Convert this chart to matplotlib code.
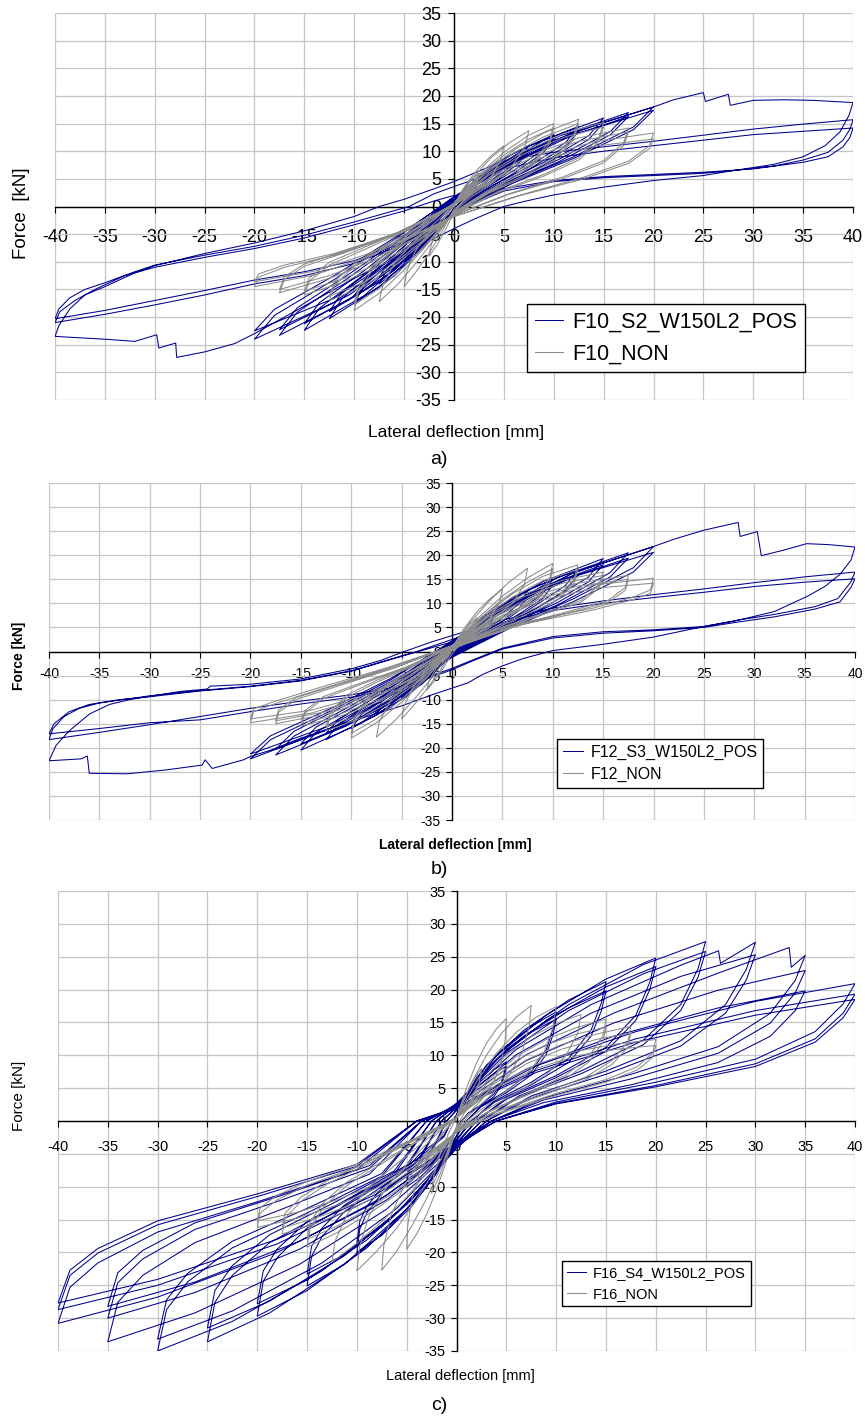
import numpy as np
import matplotlib.pyplot as plt

plt.rcParams['font.family'] = ['Liberation Sans', 'DejaVu Sans']
plt.rcParams['axes.unicode_minus'] = False

BLUE = '#00008f'
GREY = '#8c8c8c'

# ---------------- panel a : F10 ----------------
a_pos_cycles = [
    [(0,0.5),(0.8,2),(1.5,3.4),(2.5,4.5),(2.2,3.6),(1.5,2.2),(0.8,1.1),(0,-0.3),(-0.8,-2.4),(-1.5,-4.3),(-2.5,-6),(-2.2,-4.9),(-1.5,-3.3),(-0.8,-1.5),(0,0.5)],
    [(0,0.8),(1.5,3.6),(3,6),(5,8),(4.5,6.4),(3,4),(1.5,2),(0,-0.4),(-1.5,-4),(-3,-7.2),(-5,-10),(-4.5,-8.2),(-3,-5.5),(-1.5,-2.5),(0,0.8)],
    [(0,0.6),(1.5,3.2),(3,5.4),(5,7.2),(4.5,5.8),(3,3.6),(1.5,1.7),(0,-0.6),(-1.5,-3.6),(-3,-6.5),(-5,-9),(-4.5,-7.4),(-3,-5),(-1.5,-2.2),(0,0.6)],
    [(0,1.1),(2.2,5),(4.5,8.2),(7.5,11),(6.7,8.8),(4.5,5.5),(2.2,2.7),(0,-0.5),(-2.2,-5.6),(-4.5,-10),(-7.5,-14),(-6.7,-11.5),(-4.5,-7.7),(-2.2,-3.5),(0,1.1)],
    [(0,0.9),(2.2,4.6),(4.5,7.6),(7.5,10.2),(6.7,8.2),(4.5,5),(2.2,2.4),(0,-0.7),(-2.2,-5),(-4.5,-9.2),(-7.5,-12.8),(-6.7,-10.5),(-4.5,-7),(-2.2,-3.2),(0,0.9)],
    [(0,1.3),(3,5.8),(6,9.7),(10,13),(9,10.4),(6,6.5),(3,3.2),(0,-0.6),(-3,-7),(-6,-12.6),(-10,-17.5),(-9,-14.3),(-6,-9.6),(-3,-4.4),(0,1.3)],
    [(0,1.1),(3,5.3),(6,9),(10,12.2),(9,9.8),(6,6),(3,2.9),(0,-0.8),(-3,-6.4),(-6,-11.6),(-10,-16.2),(-9,-13.2),(-6,-8.8),(-3,-4),(0,1.1)],
    [(0,1.5),(3.7,6.5),(7.5,10.9),(12.5,14.5),(11.2,11.6),(7.5,7.2),(3.7,3.6),(0,-0.7),(-3.7,-8.1),(-7.5,-14.6),(-12.5,-20.3),(-11.2,-16.6),(-7.5,-11.2),(-3.7,-5.1),(0,1.5)],
    [(0,1.3),(3.7,6),(7.5,10.2),(12.5,13.6),(11.2,10.9),(7.5,6.7),(3.7,3.3),(0,-0.9),(-3.7,-7.5),(-7.5,-13.6),(-12.5,-19),(-11.2,-15.5),(-7.5,-10.4),(-3.7,-4.7),(0,1.3)],
    [(0,1.6),(4.5,7.2),(9,12),(15,16),(13.5,12.8),(9,8),(4.5,4),(0,-0.8),(-4.5,-9),(-9,-16.1),(-15,-22.4),(-13.5,-18.4),(-9,-12.3),(-4.5,-5.6),(0,1.6)],
    [(0,1.4),(4.5,6.8),(9,11.3),(15,15.2),(13.5,12.1),(9,7.5),(4.5,3.7),(0,-1),(-4.5,-8.4),(-9,-15.2),(-15,-21.2),(-13.5,-17.4),(-9,-11.6),(-4.5,-5.2),(0,1.4)],
    [(0,1.7),(5.2,7.6),(10.5,12.7),(17.5,17),(15.7,13.6),(10.5,8.5),(5.2,4.2),(0,-0.8),(-5.2,-9.3),(-10.5,-16.8),(-17.5,-23.3),(-15.7,-19.1),(-10.5,-12.8),(-5.2,-5.8),(0,1.7)],
    [(0,1.5),(5.2,7.2),(10.5,12),(17.5,16.3),(15.7,13),(10.5,8.1),(5.2,4),(0,-1),(-5.2,-8.8),(-10.5,-16),(-17.5,-22.3),(-15.7,-18.3),(-10.5,-12.2),(-5.2,-5.5),(0,1.5)],
    [(0,1.8),(6,8.1),(12,13.5),(20,18),(18,14.4),(12,9),(6,4.5),(0,-0.9),(-6,-9.6),(-12,-17.3),(-20,-24),(-18,-19.7),(-12,-13.2),(-6,-6),(0,1.8)],
    [(0,1.6),(6,7.8),(12,13),(20,17.4),(18,13.9),(12,8.7),(6,4.3),(0,-1.1),(-6,-9.2),(-12,-16.6),(-20,-22.5),(-18,-18.6),(-12,-12.5),(-6,-5.7),(0,1.6)],
]
a_pos_large = [
    (0,1.6),(6,8.1),(12,13.5),(20,18),(22,19.3),(25,20.6),(25.2,19),(27.5,20.3),(27.7,18.3),(30,19.2),(33,19.3),(36,19.2),(38,19),(40,18.8),
    (39.6,16.5),(38.7,13.5),(37.2,11),(35,9),(32,7.6),(28,6.5),(25,5.6),(20,4.7),(15,3.5),(10,2.1),(7,0.9),(5,0),(2,-2.3),(0,-4),
    (-5,-8.5),(-10,-13),(-15,-18),(-18,-21),(-20,-23),(-22,-24.8),(-25,-26.3),(-27.8,-27.3),(-27.9,-24.7),(-29.6,-25.6),(-29.8,-23.2),
    (-32,-24.4),(-35,-24),(-37,-23.8),(-40,-23.5),
    (-39.6,-21.5),(-38.5,-18.5),(-37,-16),(-35,-14.5),(-32,-12),(-30,-10.7),(-25,-8.5),(-20,-6.6),(-15,-4.4),(-10,-1.8),(-7.5,0),(-5,1.3),(-2,3.2),(0,4.5),
    (5,8.3),(10,9.8),(15,10.8),(20,11.8),(25,12.9),(30,14),(35,14.9),(40,15.7),
    (39.7,14),(39,12),(37.5,9.8),(35,8.4),(32,7.3),(28,6.5),(25,6),(20,5.6),(15,5.2),(10,4.5),(5,2.8),(2,0.5),(0,-1.5),
    (-5,-6.5),(-10,-9.8),(-15,-11.8),(-20,-13.3),(-25,-15.2),(-30,-17),(-35,-18.8),(-40,-20.3),
    (-39.6,-18.5),(-38.5,-16.5),(-37,-15),(-35,-13.8),(-32,-11.8),(-30,-10.6),(-25,-8.8),(-20,-7.2),(-15,-5.2),(-10,-2.8),(-4.5,0),(-2,2.3),(0,3.6),
    (5,6.8),(10,8.8),(15,10),(20,11),(25,12),(30,13),(35,13.6),(40,14.2),
    (39.7,12.5),(39,10.8),(37.5,9),(35,8),(30,6.8),(25,6.2),(20,5.8),(15,5.4),(10,4.7),(5,3.2),(2,1),(0,-1),
    (-5,-6.8),(-10,-10.3),(-15,-12.5),(-20,-14),(-25,-16),(-30,-17.8),(-35,-19.5),(-40,-21),
    (-39.5,-19),(-38,-17),(-36,-15),(-33,-12.5),(-30,-11),(-25,-9.2),(-20,-7.6),(-15,-5.7),(-10,-3.3),(-5,-0.8),(-2,1),(0,2),
]
a_non_cycles = [
    [(0,0),(0.8,2.8),(1.7,4.8),(2.5,6),(2.3,4.5),(1.6,2.3),(0.7,0.6),(0,-1),(-0.8,-4),(-1.7,-7),(-2.5,-9),(-2.3,-7),(-1.6,-4),(-0.7,-1.5),(0,0)],
    [(0,0.3),(1.2,4),(2.5,7),(3.8,9.3),(5,11),(4.7,8.5),(3.8,5.5),(2.5,3.2),(1,1),(0,-0.5),(-1.2,-4.5),(-2.5,-8.5),(-3.8,-11.8),(-5,-14.5),(-4.7,-11.5),(-3.8,-7.8),(-2.5,-4.8),(-1,-2),(0,0.3)],
    [(0,0.5),(1.8,5),(3.7,8.8),(5.6,11.6),(7.5,13.7),(7.1,10.8),(5.8,7.2),(3.8,4.2),(1.8,1.8),(0,-0.8),(-1.8,-5.5),(-3.7,-10),(-5.6,-14),(-7.5,-17.2),(-7.1,-14),(-5.8,-9.8),(-3.8,-6),(-1.8,-2.8),(0,0.5)],
    [(0,0.6),(2.5,5.8),(5,9.8),(7.5,12.9),(10,15),(9.6,12),(8,8),(5.5,5),(2.8,2.2),(0,-1),(-2.5,-6.5),(-5,-11.5),(-7.5,-15.7),(-10,-18.8),(-9.6,-15.5),(-8,-11),(-5.5,-7),(-2.8,-3.5),(0,0.6)],
    [(0,0.5),(2.5,5.5),(5,9.3),(7.5,12.2),(10,14.2),(9.6,11.4),(8,7.6),(5.5,4.7),(2.8,2),(0,-1.1),(-2.5,-6.2),(-5,-10.9),(-7.5,-14.8),(-10,-17.8),(-9.6,-14.7),(-8,-10.4),(-5.5,-6.6),(-2.8,-3.3),(0,0.5)],
    [(0,0.6),(3,6),(6,10.2),(9,13.3),(12.5,15.8),(12,12.8),(10,8.8),(7,5.6),(3.5,2.6),(0,-1.2),(-3,-6.3),(-6,-10.8),(-9,-14.4),(-12.5,-17),(-12,-14.3),(-10,-10.8),(-7,-7.5),(-3.5,-3.8),(0,0.6)],
    [(0,0.5),(3,5.7),(6,9.7),(9,12.6),(12.5,15),(12,12.1),(10,8.3),(7,5.3),(3.5,2.4),(0,-1.3),(-3,-6),(-6,-10.3),(-9,-13.7),(-12.5,-16.2),(-12,-13.6),(-10,-10.3),(-7,-7.1),(-3.5,-3.6),(0,0.5)],
    [(0,0.5),(3.5,6),(7,10),(11,13.2),(15,15.2),(14.5,12.3),(12.5,8.8),(9,5.8),(4.5,2.8),(0,-1.3),(-3.5,-6.2),(-7,-10.3),(-11,-13.6),(-15,-16),(-14.5,-13.5),(-12.5,-10.6),(-9,-7.8),(-4.5,-4.2),(0,0.5)],
    [(0,0.4),(3.5,5.7),(7,9.5),(11,12.5),(15,14.4),(14.5,11.7),(12.5,8.4),(9,5.5),(4.5,2.6),(0,-1.4),(-3.5,-5.9),(-7,-9.8),(-11,-13),(-15,-15.3),(-14.5,-12.9),(-12.5,-10.1),(-9,-7.4),(-4.5,-4),(0,0.4)],
    [(0,0.4),(4,5.8),(8,9.5),(12.5,12.4),(17.5,14.2),(17,11.5),(15,8.3),(11,5.4),(5.5,2.3),(0,-1.5),(-4,-6),(-8,-9.8),(-12.5,-13),(-17.5,-15.6),(-17,-13.2),(-15,-10.8),(-11,-8.4),(-5.5,-4.8),(0,0.4)],
    [(0,0.3),(4,5.5),(8,9),(12.5,11.8),(17.5,13.5),(17,11),(15,7.9),(11,5.1),(5.5,2.2),(0,-1.6),(-4,-5.8),(-8,-9.4),(-12.5,-12.5),(-17.5,-15),(-17,-12.7),(-15,-10.4),(-11,-8.1),(-5.5,-4.6),(0,0.3)],
    [(0,0.3),(4.5,5.5),(9,9),(14,11.7),(20,13.3),(19.6,11),(17.5,8.2),(13,5.3),(6.5,2),(0,-1.8),(-4.5,-5.8),(-9,-9.3),(-14,-12.4),(-20,-14.5),(-19.6,-12.8),(-17,-11),(-12,-8.8),(-6,-5.2),(0,0.3)],
    [(0,0.3),(4.5,5.2),(9,8.5),(14,10.9),(20,12.2),(19.6,10.5),(17.5,7.8),(13,5),(6.5,1.9),(0,-1.8),(-4.5,-5.5),(-9,-8.8),(-14,-11.7),(-20,-13.6),(-19.6,-12.2),(-17,-10.6),(-12,-8.5),(-6,-5),(0,0.3)],
]

# ---------------- panel b : F12 ----------------
b_pos_cycles = [
    [(0,0.6),(0.8,2.6),(1.5,4.3),(2.5,6),(2.2,4.8),(1.5,3),(0.8,1.5),(0,-0.4),(-0.8,-2),(-1.5,-3.6),(-2.5,-5),(-2.2,-4),(-1.5,-2.7),(-0.8,-1.2),(0,0.6)],
    [(0,0.9),(1.5,4.2),(3,7),(5,9.5),(4.5,7.6),(3,4.8),(1.5,2.4),(0,-0.5),(-1.5,-3.8),(-3,-6.8),(-5,-9.5),(-4.5,-7.8),(-3,-5.2),(-1.5,-2.4),(0,0.9)],
    [(0,1.2),(2.2,5.6),(4.5,9.2),(7.5,12.5),(6.7,10),(4.5,6.2),(2.2,3),(0,-0.6),(-2.2,-5.2),(-4.5,-9.3),(-7.5,-13),(-6.7,-10.7),(-4.5,-7.1),(-2.2,-3.3),(0,1.2)],
    [(0,1),(2.2,5),(4.5,8.4),(7.5,11.4),(6.7,9.1),(4.5,5.6),(2.2,2.7),(0,-0.7),(-2.2,-4.7),(-4.5,-8.4),(-7.5,-11.8),(-6.7,-9.7),(-4.5,-6.4),(-2.2,-3),(0,1)],
    [(0,1.5),(3,6.8),(6,11.2),(10,15),(9,12),(6,7.5),(3,3.8),(0,-0.8),(-3,-6.4),(-6,-11.5),(-10,-16),(-9,-13.1),(-6,-8.8),(-3,-4.2),(0,1.5)],
    [(0,1.3),(3,6.2),(6,10.3),(10,13.8),(9,11),(6,6.9),(3,3.4),(0,-0.9),(-3,-5.9),(-6,-10.6),(-10,-14.8),(-9,-12.1),(-6,-8.1),(-3,-3.8),(0,1.3)],
    [(0,1.7),(3.7,7.7),(7.5,12.8),(12.5,17),(11.2,13.6),(7.5,8.5),(3.7,4.3),(0,-0.9),(-3.7,-7.3),(-7.5,-13.2),(-12.5,-18.3),(-11.2,-15),(-7.5,-10),(-3.7,-4.7),(0,1.7)],
    [(0,1.5),(3.7,7.1),(7.5,11.8),(12.5,15.8),(11.2,12.6),(7.5,7.9),(3.7,3.9),(0,-1),(-3.7,-6.8),(-7.5,-12.3),(-12.5,-17),(-11.2,-14),(-7.5,-9.3),(-3.7,-4.4),(0,1.5)],
    [(0,1.9),(4.5,8.7),(9,14.5),(15,19.3),(13.5,15.4),(9,9.7),(4.5,4.8),(0,-1),(-4.5,-8.2),(-9,-14.8),(-15,-20.5),(-13.5,-16.8),(-9,-11.3),(-4.5,-5.3),(0,1.9)],
    [(0,1.7),(4.5,8.1),(9,13.5),(15,18),(13.5,14.4),(9,9),(4.5,4.5),(0,-1.1),(-4.5,-7.7),(-9,-13.9),(-15,-19.2),(-13.5,-15.7),(-9,-10.6),(-4.5,-5),(0,1.7)],
    [(0,2),(5.2,9.2),(10.5,15.4),(17.5,20.5),(15.7,16.4),(10.5,10.2),(5.2,5.1),(0,-1),(-5.2,-8.6),(-10.5,-15.5),(-17.5,-21.5),(-15.7,-17.6),(-10.5,-11.8),(-5.2,-5.6),(0,2)],
    [(0,1.8),(5.2,8.7),(10.5,14.5),(17.5,19.4),(15.7,15.5),(10.5,9.7),(5.2,4.8),(0,-1.1),(-5.2,-8.1),(-10.5,-14.6),(-17.5,-20.3),(-15.7,-16.6),(-10.5,-11.1),(-5.2,-5.3),(0,1.8)],
    [(0,2.2),(6,9.8),(12,16.3),(20,21.8),(18,17.4),(12,10.9),(6,5.4),(0,-1.1),(-6,-8.9),(-12,-16),(-20,-22.3),(-18,-18.3),(-12,-12.3),(-6,-5.8),(0,2.2)],
    [(0,2),(6,9.3),(12,15.5),(20,20.6),(18,16.5),(12,10.3),(6,5.1),(0,-1.2),(-6,-8.5),(-12,-15.3),(-20,-21.3),(-18,-17.5),(-12,-11.8),(-6,-5.5),(0,2)],
]
b_pos_large = [
    (0,2),(6,9.8),(12,16.3),(20,21.8),(22,23.3),(25,25.2),(28.4,26.8),(28.6,23.9),(30.3,24.9),(30.7,19.9),(33,21.1),(35.2,22.4),(37.4,22.2),(40,21.7),
    (39.6,19),(38.5,16),(37,13.5),(35.3,11.5),(32,8.3),(28,6.3),(25,5.2),(20,3),(15,1.5),(10,0.2),(7,-1.5),(5,-3),(3,-4.8),(1.6,-6.5),
    (-2,-9),(-5,-11.3),(-10,-14.5),(-15,-18),(-18,-20.5),(-20,-21.8),(-20.7,-22.5),(-23.8,-24.3),(-24.5,-22.5),(-24.8,-23.6),(-28.4,-24.6),
    (-32.2,-25.4),(-36,-25.3),(-36.2,-21.7),(-36.8,-22.3),(-40,-22.7),
    (-39.3,-19.5),(-38,-16.5),(-36,-13),(-34,-11),(-32,-10),(-30,-9.3),(-27,-8.3),(-24.3,-7.8),(-24,-7.2),(-20,-6.8),(-15,-5.7),(-10,-3.6),(-7,-1.8),(-5,-0.2),(-2,2),(0,3.3),
    (5,6.5),(10,9),(15,10.5),(20,11.8),(25,13),(30,14.3),(35,15.5),(40,16.5),
    (39.6,14.5),(38.3,11),(36,9.3),(32,7.7),(28.6,6.6),(25,5.2),(20,4.5),(15,4.1),(10,3.1),(5,0.7),(2,-1.8),(0,-3.5),
    (-5,-7.2),(-10,-9),(-15,-10.3),(-20,-11.8),(-25,-13.5),(-30,-15.2),(-35,-16.8),(-40,-18.3),
    (-39.6,-16),(-38.5,-13.5),(-37,-11.8),(-35,-10.7),(-32,-9.8),(-30,-9.2),(-25,-8.1),(-20,-7.2),(-15,-6),(-10,-4),(-5,-0.9),(-3.5,0),(0,2.5),
    (5,6),(10,8.5),(15,10),(20,11.2),(25,12.3),(30,13.5),(35,14.4),(40,15.1),
    (39.6,13.3),(38.5,10.3),(36,8.8),(32,7.2),(28,6),(25,5),(20,4.3),(15,3.8),(10,2.8),(5,0.5),(2,-2),(0,-3.8),
    (-5,-7.5),(-10,-9.5),(-15,-10.9),(-20,-12.5),(-25,-14.2),(-30,-14.8),(-35,-16),(-40,-17.1),
    (-39.5,-15),(-38,-12.5),(-36,-11),(-33,-10),(-30,-9.4),(-25,-8.2),(-20,-7.3),(-15,-6.1),(-10,-4.1),(-5,-1),(0,2),
]
b_non_cycles = [
    [(0,0.5),(0.8,3.2),(1.7,5.5),(2.5,7),(2.3,5.3),(1.6,3),(0.7,1.2),(0,-0.5),(-0.8,-3.2),(-1.7,-6),(-2.5,-8),(-2.3,-6.2),(-1.6,-3.6),(-0.7,-1.2),(0,0.5)],
    [(0,0.7),(1.2,4.8),(2.5,8.3),(3.8,11),(5,13),(4.7,10.2),(3.8,7),(2.5,4.5),(1,2),(0,0.2),(-1.2,-4),(-2.5,-7.8),(-3.8,-11.2),(-5,-14),(-4.7,-11),(-3.8,-7.2),(-2.5,-4),(-1,-1.2),(0,0.7)],
    [(0,0.8),(1.8,6),(3.7,10.5),(5.6,14.3),(7.5,17.3),(7.2,14),(6,10),(4,6.8),(2,3.5),(0,0.5),(-1.8,-5),(-3.7,-9.8),(-5.6,-14.2),(-7.5,-17.8),(-7.2,-14.5),(-6,-9.8),(-4,-5.8),(-2,-2.5),(0,0.8)],
    [(0,1),(2.5,6.8),(5,11.5),(7.5,15.3),(10,18.3),(9.7,15.2),(8.5,11.5),(6,8.2),(3,4.5),(0,0.8),(-2.5,-5.5),(-5,-10.5),(-7.5,-14.8),(-10,-18),(-9.7,-14.8),(-8.5,-10.5),(-6,-6.5),(-3,-3),(0,1)],
    [(0,0.9),(2.5,6.4),(5,10.8),(7.5,14.4),(10,17.2),(9.7,14.3),(8.5,10.8),(6,7.7),(3,4.2),(0,0.7),(-2.5,-5.2),(-5,-9.9),(-7.5,-14),(-10,-17),(-9.7,-14),(-8.5,-9.9),(-6,-6.1),(-3,-2.8),(0,0.9)],
    [(0,1.1),(3,7.2),(6,12),(9,15.6),(12.5,18),(12.1,15),(10.5,11.3),(7.5,8.3),(3.8,4.6),(0,0.8),(-3,-5.8),(-6,-10.3),(-9,-13.8),(-12.5,-16.5),(-12.1,-13.5),(-10.5,-9.6),(-7.5,-6.4),(-3.8,-3),(0,1.1)],
    [(0,1),(3,6.8),(6,11.3),(9,14.7),(12.5,17),(12.1,14.2),(10.5,10.7),(7.5,7.8),(3.8,4.3),(0,0.7),(-3,-5.5),(-6,-9.7),(-9,-13),(-12.5,-15.6),(-12.1,-12.8),(-10.5,-9.1),(-7.5,-6),(-3.8,-2.8),(0,1)],
    [(0,1.2),(3.5,7.3),(7,11.8),(11,14.8),(15,16.5),(14.6,13.8),(12.8,10.6),(9,8),(4.5,4.7),(0,0.8),(-3.5,-5.8),(-7,-10.2),(-11,-13.4),(-15,-15.5),(-14.6,-12.8),(-12.8,-9.8),(-9,-6.8),(-4.5,-3.3),(0,1.2)],
    [(0,1.1),(3.5,7),(7,11.3),(11,14.2),(15,15.8),(14.6,13.2),(12.8,10.2),(9,7.7),(4.5,4.5),(0,0.7),(-3.5,-5.6),(-7,-9.8),(-11,-12.9),(-15,-14.9),(-14.6,-12.3),(-12.8,-9.4),(-9,-6.5),(-4.5,-3.2),(0,1.1)],
    [(0,1.2),(4,7.2),(8,11.5),(12.5,14.2),(17.5,15.8),(17.2,13.3),(15.5,10.6),(11.5,8.3),(5.8,5.1),(0,0.8),(-4,-5.8),(-8,-10),(-12.5,-13),(-17.5,-15),(-17.2,-12.6),(-15.5,-10),(-11.5,-7.3),(-5.8,-3.5),(0,1.2)],
    [(0,1.1),(4,6.9),(8,11),(12.5,13.6),(17.5,15),(17.2,12.7),(15.5,10.2),(11.5,8),(5.8,4.9),(0,0.7),(-4,-5.6),(-8,-9.6),(-12.5,-12.5),(-17.5,-14.4),(-17.2,-12.1),(-15.5,-9.6),(-11.5,-7),(-5.8,-3.4),(0,1.1)],
    [(0,1.2),(4.5,7),(9,11.2),(14,13.8),(20,15.2),(19.7,12.8),(18,11.3),(14,9),(7,6),(0,0.7),(-4.5,-5.6),(-9,-9.8),(-14,-12.8),(-20,-14.8),(-19.7,-12.5),(-17.5,-10.8),(-13,-7.8),(-6.5,-3.6),(0,1.2)],
    [(0,1.1),(4.5,6.7),(9,10.7),(14,13.1),(20,14.2),(19.7,12.1),(18,10.8),(14,8.6),(7,5.7),(0,0.6),(-4.5,-5.3),(-9,-9.3),(-14,-12.2),(-20,-14),(-19.7,-11.9),(-17.5,-10.3),(-13,-7.4),(-6.5,-3.4),(0,1.1)],
]

# ---------------- panel c : F16 ----------------
c_pos_cycles = [
    [(0,1),(1,3.6),(2.25,5.9),(3.75,7.8),(5,9),(4.85,7.7),(4.5,5.9),(3.75,4.1),(2.5,2.5),(1.25,1.3),(0.5,0),(0,-1.2),(-1,-4),(-2.25,-6.5),(-3.75,-8.7),(-5,-10),(-4.85,-8.2),(-4.5,-7),(-3.75,-5.5),(-2.5,-4),(-1.25,-2.4),(-0.5,0),(0,0.9)],
    [(0,0.9),(1,3.3),(2.25,5.4),(3.75,7.2),(5,8.3),(4.85,7.1),(4.5,5.4),(3.75,3.7),(2.5,2.3),(1.25,1.2),(0.5,0),(0,-1.1),(-1,-3.7),(-2.25,-6),(-3.75,-8),(-5,-9.2),(-4.85,-7.5),(-4.5,-6.4),(-3.75,-5.1),(-2.5,-3.7),(-1.25,-2.2),(-0.5,0),(0,0.8)],
    [(0,0.8),(2,6.6),(4.5,10.8),(7.5,14.4),(10,16.6),(9.7,14.1),(9,10.8),(7.5,7.5),(5,4.6),(2.5,2.3),(1,0),(0,-2.4),(-2,-8),(-4.5,-13),(-7.5,-17.4),(-10,-20),(-9.7,-16.4),(-9,-14),(-7.5,-11),(-5,-8),(-2.5,-4.8),(-1,0),(0,1.7)],
    [(0,1.7),(2,6.2),(4.5,10.1),(7.5,13.5),(10,15.5),(9.7,13.2),(9,10.1),(7.5,7),(5,4.3),(2.5,2.2),(1,0),(0,-2.2),(-2,-7.4),(-4.5,-12),(-7.5,-16.1),(-10,-18.5),(-9.7,-15.2),(-9,-13),(-7.5,-10.2),(-5,-7.4),(-2.5,-4.4),(-1,0),(0,1.6)],
    [(0,1.6),(3,8.5),(6.75,13.8),(11.25,18.4),(15,21.2),(14.55,18),(13.5,13.8),(11.25,9.5),(7.5,5.9),(3.75,3),(1.5,0),(0,-3),(-3,-10),(-6.75,-16.3),(-11.25,-21.8),(-15,-25.1),(-14.55,-20.6),(-13.5,-17.6),(-11.25,-13.8),(-7.5,-10),(-3.75,-6),(-1.5,0),(0,2.1)],
    [(0,2.1),(3,7.9),(6.75,12.9),(11.25,17.2),(15,19.8),(14.55,16.8),(13.5,12.9),(11.25,8.9),(7.5,5.5),(3.75,2.8),(1.5,0),(0,-2.8),(-3,-9.3),(-6.75,-15.1),(-11.25,-20.3),(-15,-23.3),(-14.55,-19.1),(-13.5,-16.3),(-11.25,-12.8),(-7.5,-9.3),(-3.75,-5.6),(-1.5,0),(0,2)],
    [(0,2),(4,9.9),(9,16.1),(15,21.6),(20,24.8),(19.4,21.1),(18,16.1),(15,11.2),(10,6.9),(5,3.5),(2,0),(0,-3.6),(-4,-11.9),(-9,-19.3),(-15,-25.8),(-20,-29.7),(-19.4,-24.4),(-18,-20.8),(-15,-16.3),(-10,-11.9),(-5,-7.1),(-2,0),(0,2.5)],
    [(0,2.5),(4,9.4),(9,15.3),(15,20.4),(20,23.5),(19.4,20),(18,15.3),(15,10.6),(10,6.6),(5,3.3),(2,0),(0,-3.3),(-4,-11.1),(-9,-18.1),(-15,-24.2),(-20,-27.8),(-19.4,-22.8),(-18,-19.5),(-15,-15.3),(-10,-11.1),(-5,-6.7),(-2,0),(0,2.4)],
    [(0,2.4),(5,10.9),(11.25,17.7),(18.75,23.8),(25,27.3),(24.25,23.2),(22.5,17.7),(18.75,12.3),(12.5,7.6),(6.25,3.8),(2.5,0),(0,-4),(-5,-13.4),(-11.25,-21.8),(-18.75,-29.2),(-25,-33.6),(-24.25,-27.6),(-22.5,-23.5),(-18.75,-18.5),(-12.5,-13.4),(-6.25,-8.1),(-2.5,0),(0,2.7)],
    [(0,2.7),(5,10.3),(11.25,16.8),(18.75,22.4),(25,25.8),(24.25,21.9),(22.5,16.8),(18.75,11.6),(12.5,7.2),(6.25,3.6),(2.5,0),(0,-3.8),(-5,-12.6),(-11.25,-20.5),(-18.75,-27.4),(-25,-31.5),(-24.25,-25.8),(-22.5,-22),(-18.75,-17.3),(-12.5,-12.6),(-6.25,-7.6),(-2.5,0),(0,2.6)],
    [(0,2.6),(6,10.9),(13.5,17.7),(22.5,23.7),(26.3,25.9),(26.5,24),(30,27.2),(29.1,23.1),(27,17.7),(22.5,12.2),(15,7.6),(7.5,3.8),(3,0),(0,-4.2),(-6,-14),(-13.5,-22.8),(-22.5,-30.5),(-30,-35),(-29.1,-28.7),(-27,-24.5),(-22.5,-19.3),(-15,-14),(-7.5,-8.4),(-3,0),(0,2.5)],
    [(0,2.5),(6,10.1),(13.5,16.4),(22.5,22),(30,25.3),(29.1,21.5),(27,16.4),(22.5,11.4),(15,7.1),(7.5,3.5),(3,0),(0,-4),(-6,-13.3),(-13.5,-21.6),(-22.5,-28.9),(-30,-33.2),(-29.1,-27.2),(-27,-23.2),(-22.5,-18.3),(-15,-13.3),(-7.5,-8),(-3,0),(0,2.5)],
    [(0,2.5),(7,10.1),(15.75,16.4),(26.25,22.5),(33.4,26.4),(33.6,23.4),(35,25.2),(34,21.4),(31.5,16.4),(26.25,11.3),(17.5,7.1),(8.75,3.5),(3.5,0),(0,-4),(-7,-13.4),(-15.75,-21.8),(-26.25,-29.2),(-35,-33.6),(-34,-27.6),(-31.5,-23.5),(-26.25,-18.5),(-17.5,-13.4),(-8.75,-8.1),(-3.5,0),(0,2.2)],
    [(0,2.2),(7,9.2),(15.75,14.9),(26.25,19.9),(35,22.9),(34,19.5),(31.5,14.9),(26.25,10.3),(17.5,6.4),(8.75,3.2),(3.5,0),(0,-3.6),(-7,-12),(-15.75,-19.5),(-26.25,-26.1),(-35,-30),(-34,-24.6),(-31.5,-21),(-26.25,-16.5),(-17.5,-12),(-8.75,-7.2),(-3.5,0),(0,2)],
    [(0,2),(7,7.9),(15.75,12.9),(26.25,17.2),(35,19.8),(34,16.8),(31.5,12.9),(26.25,8.9),(17.5,5.5),(8.75,2.8),(3.5,0),(0,-3.4),(-7,-11.3),(-15.75,-18.3),(-26.25,-24.5),(-35,-28.2),(-34,-23.1),(-31.5,-19.7),(-26.25,-15.5),(-17.5,-11.3),(-8.75,-6.8),(-3.5,0),(0,2)],
    [(0,2),(8,8.4),(18,13.6),(30,18.2),(40,20.9),(38.8,17.8),(36,13.6),(30,9.4),(20,5.9),(10,2.9),(4,0),(0,-3.7),(-8,-12.3),(-18,-20),(-30,-26.8),(-40,-30.8),(-38.8,-25.3),(-36,-21.6),(-30,-16.9),(-20,-12.3),(-10,-7.4),(-4,0),(0,2.1)],
    [(0,2.1),(8,7.7),(18,12.5),(30,16.8),(40,19.3),(38.8,16.4),(36,12.5),(30,8.7),(20,5.4),(10,2.7),(4,0),(0,-3.4),(-8,-11.5),(-18,-18.7),(-30,-25),(-40,-28.7),(-38.8,-23.5),(-36,-20.1),(-30,-15.8),(-20,-11.5),(-10,-6.9),(-4,0),(0,1.9)],
    [(0,1.9),(8,7.4),(18,12),(30,16.1),(40,18.5),(38.8,15.7),(36,12),(30,8.3),(20,5.2),(10,2.6),(4,0),(0,-3.3),(-8,-11.1),(-18,-18),(-30,-24.1),(-40,-27.7),(-38.8,-22.7),(-36,-19.4),(-30,-15.2),(-20,-11.1),(-10,-6.6),(-4,0),(0,1.8)],
]
c_non_cycles = [
    [(0,0.5),(0.8,3.5),(1.7,6.2),(2.5,8),(2.3,6),(1.6,3.2),(0.7,1),(0,-0.8),(-0.8,-4.5),(-1.7,-8.3),(-2.5,-11),(-2.3,-8.5),(-1.6,-4.8),(-0.7,-1.5),(0,0.5)],
    [(0,0.5),(1,5),(2,8.8),(3,11.8),(4,14),(5,15.6),(4.9,12.5),(4.5,9),(3.7,5.8),(2.5,3.2),(1,0.8),(0,-1),(-1,-6),(-2,-10.5),(-3,-14.2),(-4,-17.2),(-5,-19.5),(-4.9,-16),(-4.5,-12),(-3.7,-8),(-2.5,-4.5),(-1,-1.2),(0,0.5)],
    [(0,0.6),(1.5,5.8),(3,10),(4.5,13.3),(6,15.8),(7.5,17.6),(7.3,14.5),(6.6,10.5),(5.3,7),(3.5,4),(1.5,1.2),(0,-1.2),(-1.5,-6.8),(-3,-11.8),(-4.5,-16),(-6,-19.8),(-7.5,-22.7),(-7.3,-19),(-6.6,-14.5),(-5.3,-10),(-3.5,-5.8),(-1.5,-2),(0,0.6)],
    [(0,0.6),(2,6),(4,10.3),(6,13.5),(8,15.8),(10,17.4),(9.7,14.3),(8.8,10.5),(7,7),(4.5,4),(2,1.2),(0,-1.3),(-2,-7),(-4,-12),(-6,-16.3),(-8,-19.8),(-10,-22.8),(-9.7,-19),(-8.8,-14.5),(-7,-10),(-4.5,-5.8),(-2,-2),(0,0.6)],
    [(0,0.6),(2.5,6),(5,10),(7.5,12.8),(10,14.8),(12.5,16.2),(12.2,13.5),(11,10),(9,7),(6,4.3),(2.5,1.3),(0,-1.4),(-2.5,-7),(-5,-11.6),(-7.5,-15.3),(-10,-18.6),(-12.5,-21.5),(-12.2,-18.3),(-11,-14.3),(-9,-10.3),(-6,-6.5),(-2.5,-2.2),(0,0.6)],
    [(0,0.6),(3,6),(6,9.8),(9,12.4),(12,14.2),(15,15.5),(14.7,13),(13.3,9.8),(11,7),(7.5,4.5),(3,1.3),(0,-1.5),(-3,-7),(-6,-11.2),(-9,-14.3),(-12,-17),(-15,-19.2),(-14.7,-16.4),(-13.3,-13),(-11,-9.8),(-7.5,-6.5),(-3,-2.3),(0,0.6)],
    [(0,0.5),(3,5.6),(6,9.2),(9,11.6),(12,13.2),(15,14.3),(14.7,12),(13.3,9),(11,6.5),(7.5,4.2),(3,1.2),(0,-1.5),(-3,-6.6),(-6,-10.6),(-9,-13.5),(-12,-16),(-15,-18),(-14.7,-15.4),(-13.3,-12.3),(-11,-9.3),(-7.5,-6.2),(-3,-2.2),(0,0.5)],
    [(0,0.5),(3.5,5.8),(7,9.3),(10.5,11.6),(14,13.2),(17.5,14.4),(17.2,12),(15.6,9.2),(13,6.7),(9,4.4),(3.5,1.2),(0,-1.6),(-3.5,-6.8),(-7,-10.6),(-10.5,-13.4),(-14,-15.5),(-17.5,-17.2),(-17.2,-14.8),(-15.6,-12.2),(-13,-9.6),(-9,-6.6),(-3.5,-2.4),(0,0.5)],
    [(0,0.5),(3.5,5.4),(7,8.7),(10.5,10.9),(14,12.4),(17.5,13.4),(17.2,11.2),(15.6,8.6),(13,6.3),(9,4.1),(3.5,1.1),(0,-1.6),(-3.5,-6.4),(-7,-10),(-10.5,-12.7),(-14,-14.7),(-17.5,-16.3),(-17.2,-14),(-15.6,-11.6),(-13,-9.1),(-9,-6.3),(-3.5,-2.3),(0,0.5)],
    [(0,0.5),(4,5.5),(8,8.6),(12,10.6),(16,11.7),(20,12.4),(19.7,10.4),(18.2,8.3),(15,6.3),(10,4.2),(4,1.1),(0,-1.7),(-4,-6.6),(-8,-10.2),(-12,-12.8),(-16,-14.8),(-20,-16.2),(-19.7,-14),(-18,-12),(-15,-9.8),(-10,-7),(-4,-2.6),(0,0.5)],
    [(0,0.5),(4,5.1),(8,8),(12,9.9),(16,10.9),(20,11.5),(19.7,9.7),(18.2,7.8),(15,5.9),(10,3.9),(4,1),(0,-1.7),(-4,-6.2),(-8,-9.6),(-12,-12),(-16,-13.9),(-20,-15.2),(-19.7,-13.2),(-18,-11.3),(-15,-9.2),(-10,-6.6),(-4,-2.5),(0,0.5)],
]

x_ticks = list(range(-40, 45, 5))
y_ticks = list(range(-35, 40, 5))

W, H = 865, 1416
fig = plt.figure(figsize=(W / 100, H / 100), dpi=100)


def px_rect(l, t, r, b):
    return [l / W, 1 - b / H, (r - l) / W, (b - t) / H]


def trace(cycles, extra=None):
    pts = [p for c in cycles for p in c]
    if extra:
        pts = pts + list(extra)
    arr = np.array(pts, dtype=float)
    return arr[:, 0], arr[:, 1]


panels = [
    dict(rect=(55, 13, 853, 400), pos=trace(a_pos_cycles, a_pos_large), non=trace(a_non_cycles),
         labels=('F10_S2_W150L2_POS', 'F10_NON'), tick_fs=13, xpad=12, ypad=5,
         leg=(527, 304), leg_fs=15.5, ls=0.5,
         xlabel=('Lateral deflection [mm]', 456, 432, 12.5, 'normal'),
         ylabel=('Force  [kN]', 22, 213, 13.5, 'normal'), cap=('a)', 439, 459)),
    dict(rect=(49, 483, 855, 820), pos=trace(b_pos_cycles, b_pos_large), non=trace(b_non_cycles),
         labels=('F12_S3_W150L2_POS', 'F12_NON'), tick_fs=10, xpad=7, ypad=4,
         leg=(557, 739), leg_fs=11.5, ls=0.45,
         xlabel=('Lateral deflection [mm]', 455, 845, 10, 'bold'),
         ylabel=('Force [kN]', 19, 656, 10, 'bold'), cap=('b)', 439, 870)),
    dict(rect=(58, 891, 855, 1351), pos=trace(c_pos_cycles), non=trace(c_non_cycles),
         labels=('F16_S4_W150L2_POS', 'F16_NON'), tick_fs=10.5, xpad=10, ypad=4,
         leg=(562, 1261), leg_fs=10.5, ls=0.45,
         xlabel=('Lateral deflection [mm]', 460, 1376, 10.5, 'normal'),
         ylabel=('Force [kN]', 19, 1096, 11, 'normal'), cap=('c)', 439, 1405)),
]

for p in panels:
    ax = fig.add_axes(px_rect(*p['rect']))
    ax.set_xlim(-40, 40)
    ax.set_ylim(-35, 35)
    ax.set_xticks(x_ticks)
    ax.set_yticks(y_ticks)
    ax.grid(True, color='#c6c6c6', linewidth=0.9)
    ax.set_axisbelow(True)
    for s in ('top', 'right'):
        ax.spines[s].set_visible(False)
    ax.spines['left'].set_position(('data', 0))
    ax.spines['bottom'].set_position(('data', 0))
    for s in ('left', 'bottom'):
        ax.spines[s].set_color('black')
        ax.spines[s].set_linewidth(1.0)
        ax.spines[s].set_zorder(1.5)
    ax.tick_params(axis='x', direction='out', length=4, width=0.8,
                   labelsize=p['tick_fs'], pad=p['xpad'])
    ax.tick_params(axis='y', direction='out', length=4, width=0.8,
                   labelsize=p['tick_fs'], pad=p['ypad'])

    l1, = ax.plot(p['pos'][0], p['pos'][1], color=BLUE, lw=0.75, zorder=3)
    l2, = ax.plot(p['non'][0], p['non'][1], color=GREY, lw=0.75, zorder=4)

    lx, ly = p['leg']
    leg = ax.legend([l1, l2], p['labels'], loc='upper left',
                    bbox_to_anchor=(lx / W, 1 - ly / H), bbox_transform=fig.transFigure,
                    borderaxespad=0, fontsize=p['leg_fs'], handlelength=1.3,
                    handletextpad=0.45, borderpad=0.35, labelspacing=p['ls'],
                    fancybox=False, framealpha=1, edgecolor='black')
    leg.get_frame().set_linewidth(1.0)
    leg.set_zorder(10)

    t, x, y, fs, fw = p['xlabel']
    fig.text(x / W, 1 - y / H, t, ha='center', va='center', fontsize=fs, fontweight=fw)
    t, x, y, fs, fw = p['ylabel']
    fig.text(x / W, 1 - y / H, t, ha='center', va='center', fontsize=fs, fontweight=fw,
             rotation=90)
    t, x, y = p['cap']
    fig.text(x / W, 1 - y / H, t, ha='center', va='center', fontsize=14)

fig.savefig('out.png', dpi=100)
